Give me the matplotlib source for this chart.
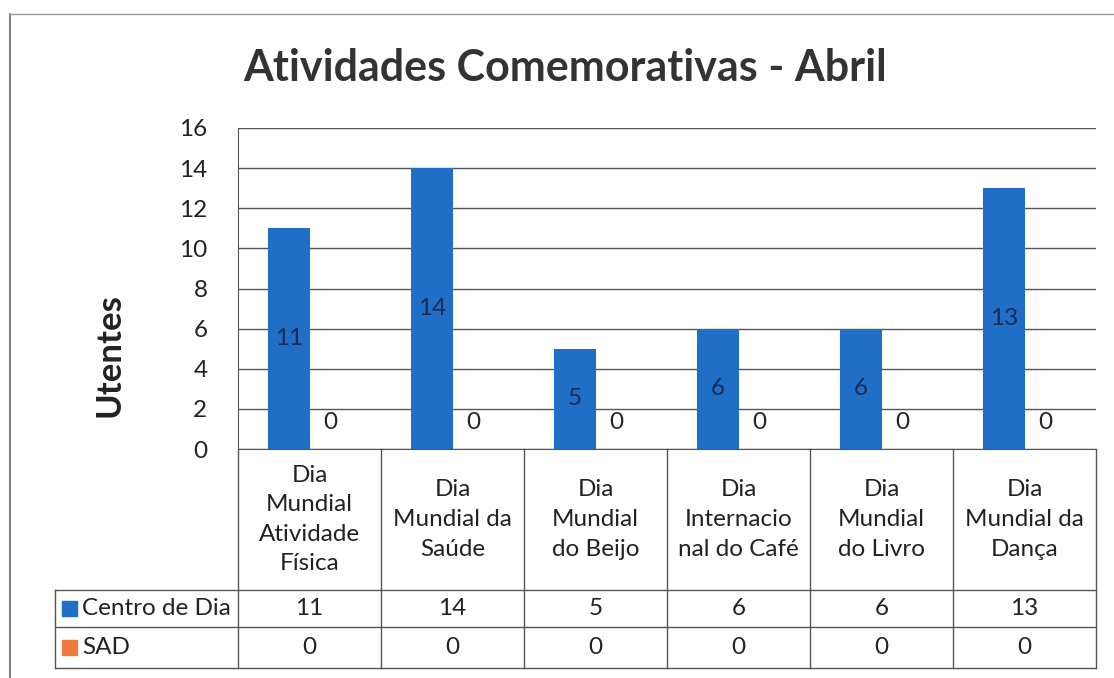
import matplotlib
matplotlib.use("Agg")
import matplotlib.pyplot as plt
import numpy as np

# data
categories = ["Dia\nMundial\nAtividade\nFísica", "Dia\nMundial da\nSaúde", "Dia\nMundial\ndo Beijo",
              "Dia\nInternacio\nnal do Café", "Dia\nMundial\ndo Livro", "Dia\nMundial da\nDança"]
centro = [11, 14, 5, 6, 6, 13]
sad = [0, 0, 0, 0, 0, 0]
series_names = ["Centro de Dia", "SAD"]
yticks = [0, 2, 4, 6, 8, 10, 12, 14, 16]

blue = "#1f6fc6"
orange = "#ec7a3c"
W, H = 1114, 678
FONT = "Lato"
FS = 17.5

def fx(x):
    return x / W

def fy(y):
    return 1 - y / H

fig = plt.figure(figsize=(W / 100, H / 100), dpi=100)

# plot area in pixels
L, R, T, B = 238, 1096, 128, 449
ax = fig.add_axes([fx(L), fy(B), fx(R - L), (B - T) / H])

x = np.arange(len(categories))
w = 0.29
ax.bar(x - w / 2, centro, w, color=blue, zorder=3)
ax.bar(x + w / 2, sad, w, color=orange, zorder=3)
for i in range(len(categories)):
    ax.text(x[i] - w / 2, centro[i] / 2, str(centro[i]), ha="center", va="center",
            fontsize=FS, color="#1a2a55", family=FONT, zorder=4)
    ax.text(x[i] + w / 2, 1.3, str(sad[i]), ha="center", va="center",
            fontsize=FS, color="#222222", family=FONT, zorder=4)

ax.set_xlim(-0.5, len(categories) - 0.5)
ax.set_ylim(0, 16)
ax.set_yticks(yticks)
ax.set_yticklabels([str(t) for t in yticks], family=FONT, fontsize=FS, color="#222222")
ax.set_xticks([])
ax.tick_params(axis="y", length=0, pad=22)
ax.grid(axis="y", color="#555555", linewidth=1.0, zorder=0)
for s in ["top", "right"]:
    ax.spines[s].set_visible(False)
ax.spines["left"].set_color("#555555")
ax.spines["bottom"].set_color("#555555")

fig.text(fx(110), fy(355), "Utentes", rotation=90, ha="center", va="center",
         family=FONT, fontsize=25, fontweight="bold", color="#222222")

fig.text(fx(565), fy(68), "Atividades Comemorativas - Abril", ha="center", va="center",
         family=FONT, fontsize=31, fontweight="bold", color="#333333")

# data table
lc = "#555555"
def hline(y, x0, x1):
    fig.add_artist(plt.Line2D([fx(x0), fx(x1)], [fy(y), fy(y)], color=lc, linewidth=1.0))

def vline(x0, y0, y1):
    fig.add_artist(plt.Line2D([fx(x0), fx(x0)], [fy(y0), fy(y1)], color=lc, linewidth=1.0))

legL = 55
rows_y = [590, 627, 668]
colw = (R - L) / len(categories)
for y in rows_y:
    hline(y, legL, R)
for i in range(len(categories) + 1):
    vline(L + i * colw, B, rows_y[-1])
vline(legL, rows_y[0], rows_y[-1])

for i, c in enumerate(categories):
    cx = L + (i + 0.5) * colw
    fig.text(fx(cx), fy((B + rows_y[0]) / 2), c, ha="center", va="center", family=FONT,
             fontsize=FS, color="#222222", linespacing=1.5)
    fig.text(fx(cx), fy((rows_y[0] + rows_y[1]) / 2), str(centro[i]), ha="center", va="center",
             family=FONT, fontsize=FS, color="#222222")
    fig.text(fx(cx), fy((rows_y[1] + rows_y[2]) / 2), str(sad[i]), ha="center", va="center",
             family=FONT, fontsize=FS, color="#222222")

for j, (name, col) in enumerate(zip(series_names, [blue, orange])):
    ym = (rows_y[j] + rows_y[j + 1]) / 2
    fig.add_artist(plt.Rectangle((fx(62), fy(ym + 7)), 15 / W, 15 / H, color=col))
    fig.text(fx(82), fy(ym), name, ha="left", va="center", family=FONT, fontsize=FS, color="#222222")

# outer chart border
fig.add_artist(plt.Line2D([fx(10), fx(10)], [fy(14), fy(678)], color="#666666", linewidth=1.2))
fig.add_artist(plt.Line2D([fx(10), fx(1114)], [fy(14), fy(14)], color="#999999", linewidth=1.0))

fig.savefig("out.png", dpi=100)
